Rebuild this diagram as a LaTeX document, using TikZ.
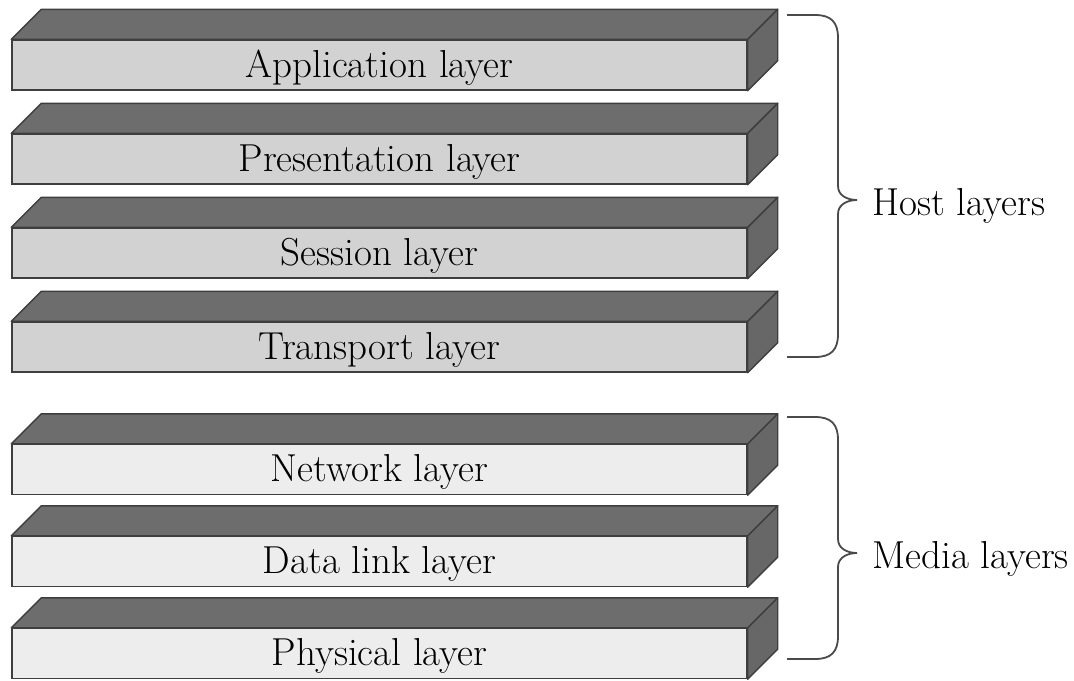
\documentclass[tikz,border=0pt]{standalone}
\usepackage{tikz}
\usetikzlibrary{positioning,calc}
\definecolor{topgray}{HTML}{6D6D6D}
\definecolor{sidegray}{HTML}{676767}
\definecolor{edgegray}{HTML}{3E3E3E}
\definecolor{hostgray}{HTML}{D2D2D2}
\definecolor{mediagray}{HTML}{EDEDED}
\definecolor{bracegray}{HTML}{4A4A4A}
\tikzstyle{hostlayer} = [rectangle, minimum width=367.5pt, minimum height=25pt, inner sep=0pt,
text height=14pt, text depth=2pt, text centered, draw=edgegray, fill=hostgray, line width=0.7pt,
font=\fontsize{19.5}{22}\selectfont]
\tikzstyle{medialayer} = [hostlayer, fill=mediagray]
\tikzstyle{topface} = [draw=edgegray, fill=topgray, line width=0.7pt, line join=round]
\tikzstyle{sideface} = [topface, fill=sidegray]
\tikzstyle{brace} = [draw=bracegray, line width=0.9pt]
\tikzstyle{grouplabel} = [anchor=west, inner sep=0pt, font=\fontsize{19.5}{22}\selectfont]

\begin{document}
\begin{tikzpicture}[x=0.5pt, y=-0.5pt]
\useasboundingbox (0,0) rectangle (1074,680);
% host layers
\node (app) at (379.5,65) [hostlayer] {Application layer};
\node (pres) at (379.5,159) [hostlayer] {Presentation layer};
\node (sess) at (379.5,253) [hostlayer] {Session layer};
\node (trans) at (379.5,347) [hostlayer] {Transport layer};
% media layers
\node (net) at (379.5,469.5) [medialayer] {Network layer};
\node (dl) at (379.5,561.5) [medialayer] {Data link layer};
\node (phys) at (379.5,653.5) [medialayer] {Physical layer};
% top and side of each slab
\foreach \n in {app,pres,sess,trans,net,dl,phys}{
  \draw[topface] (\n.north west) -- ++(30,-30) -- ($(\n.north east)+(30,-30)$) -- (\n.north east) -- cycle;
  \draw[sideface] (\n.north east) -- ($(\n.north east)+(30,-30)$) -- ($(\n.south east)+(30,-30)$) -- (\n.south east) -- cycle;
}
% braces
\coordinate (htop) at (787,15);
\coordinate (hbot) at (787,357);
\coordinate (htip) at (857,200);
\draw[brace] (htop) -- (815,15) .. controls (831,15) and (838,22) .. (838,38) -- (838,186)
  .. controls (838,196) and (848,200) .. (htip) .. controls (848,200) and (838,204) .. (838,214)
  -- (838,334) .. controls (838,350) and (831,357) .. (815,357) -- (hbot);
\coordinate (mtop) at (787,417);
\coordinate (mbot) at (787,659);
\coordinate (mtip) at (857,553);
\draw[brace] (mtop) -- (815,417) .. controls (831,417) and (838,424) .. (838,440) -- (838,539)
  .. controls (838,549) and (848,553) .. (mtip) .. controls (848,553) and (838,557) .. (838,567)
  -- (838,636) .. controls (838,652) and (831,659) .. (815,659) -- (mbot);
\node (hostlbl) [grouplabel, right=7.5pt of htip, yshift=-3pt] {Host layers};
\node (medialbl) [grouplabel, right=7.5pt of mtip, yshift=-3pt] {Media layers};
\end{tikzpicture}
\end{document}
